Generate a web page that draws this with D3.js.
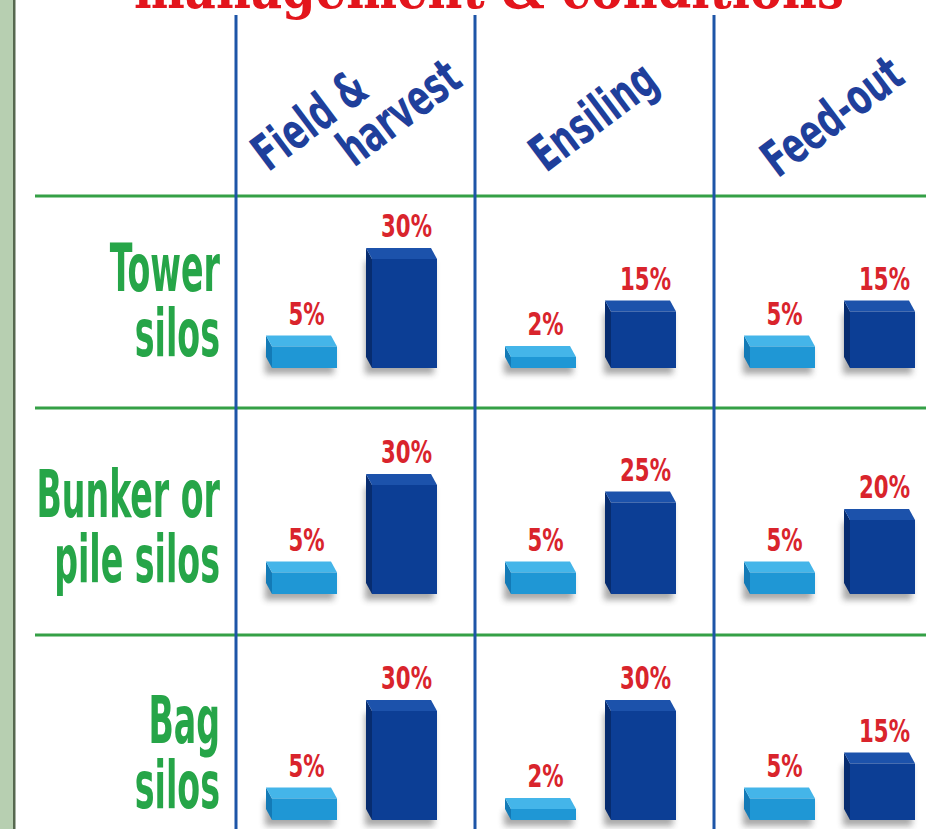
<!DOCTYPE html>
<html><head><meta charset="utf-8">
<script src="https://cdn.jsdelivr.net/npm/d3@7"></script>
<style>html,body{margin:0;padding:0;background:#fff;overflow:hidden}</style>
</head><body>
<svg id="chart" width="926" height="829"></svg>
<script>
// Silage dry-matter losses by storage type and stage
const stages = ["Field & harvest", "Ensiling", "Feed-out"];
const stageLines = [["Field &", "harvest"], ["Ensiling"], ["Feed-out"]];
const silos = ["Tower silos", "Bunker or pile silos", "Bag silos"];
const siloLines = [["Tower", "silos"], ["Bunker or", "pile silos"], ["Bag", "silos"]];
const series = ["Good", "Poor"];
// rows = silos, columns = stages
const goodLoss = [[5, 2, 5], [5, 5, 5], [5, 2, 5]];
const poorLoss = [[30, 15, 15], [30, 25, 20], [30, 30, 15]];
const titleText = "management & conditions";

const W = 926, H = 829;
const svg = d3.select("#chart");
const condensed = "'Liberation Sans Narrow', 'DejaVu Sans Condensed', 'Roboto', sans-serif";

const defs = svg.append("defs");
defs.append("filter").attr("id", "soft").attr("x", "-50%").attr("y", "-50%").attr("width", "200%").attr("height", "200%")
  .append("feGaussianBlur").attr("stdDeviation", 3);

// page background and left margin strip
svg.append("rect").attr("width", W).attr("height", H).attr("fill", "#ffffff");
svg.append("rect").attr("x", 0).attr("y", 0).attr("width", 13).attr("height", H).attr("fill", "#b7cfb1");
svg.append("rect").attr("x", 13).attr("y", 0).attr("width", 2.5).attr("height", H).attr("fill", "#56684f");

// scales
const x = d3.scaleBand().domain(stages).range([236, 236 + 3 * 239]);
const y = d3.scalePoint().domain(silos).range([368, 820]);
const xs = d3.scaleBand().domain(series).range([30, 201]).paddingInner(0.29);
const h = d3.scaleLinear().domain([0, 30]).range([4, 109]);
const depth = { dx: -6, dy: -11 };
const rowRuleY = [196, 408, 635];

const palette = {
  Good: { front: "#1f97d5", top: "#44b5e9", side: "#137ab6" },
  Poor: { front: "#0c3e95", top: "#1c52ab", side: "#072c6f" }
};

// cropped title line
svg.append("text")
  .attr("x", 134).attr("y", 8)
  .attr("textLength", 710).attr("lengthAdjust", "spacingAndGlyphs")
  .attr("font-family", "'DejaVu Serif', serif").attr("font-weight", "bold")
  .attr("font-size", 56).attr("fill", "#e3151c")
  .text(titleText);

// green row rules
svg.append("g").selectAll("line").data(rowRuleY).join("line")
  .attr("x1", 35).attr("x2", W).attr("y1", d => d).attr("y2", d => d)
  .attr("stroke", "#35a046").attr("stroke-width", 3);

// blue column rules
svg.append("g").selectAll("line").data(stages).join("line")
  .attr("x1", d => x(d)).attr("x2", d => x(d)).attr("y1", 15).attr("y2", H)
  .attr("stroke", "#1d55a7").attr("stroke-width", 3);

// column headers (rotated, condensed)
const hsx = 0.72;
const header = svg.append("g").selectAll("g").data(stages).join("g")
  .attr("transform", d => `translate(${x(d) + 118},116) rotate(-37) scale(${hsx},1)`);
header.each(function (d, i) {
  const lines = stageLines[i];
  const g = d3.select(this);
  lines.forEach((t, j) => {
    const k = j - (lines.length - 1) / 2;
    g.append("text")
      .attr("x", k * 76 / hsx).attr("y", k * 48).attr("dy", "0.35em")
      .attr("text-anchor", "middle")
      .attr("font-family", condensed).attr("font-weight", "bold")
      .attr("font-size", 50).attr("fill", "#1f3f9b")
      .text(t);
  });
});

// row labels
const rowLab = svg.append("g").selectAll("g").data(silos).join("g")
  .attr("transform", d => `translate(220,${y(d) - 12}) scale(0.56,1)`);
rowLab.each(function (d, i) {
  const lines = siloLines[i];
  const g = d3.select(this);
  lines.forEach((t, j) => {
    g.append("text")
      .attr("x", 0).attr("y", (j - (lines.length - 1)) * 65)
      .attr("text-anchor", "end")
      .attr("font-family", condensed).attr("font-weight", "bold")
      .attr("font-size", 66).attr("fill", "#26a548")
      .text(t);
  });
});

// bar cells
const cells = [];
silos.forEach((s, r) => stages.forEach((st, c) => {
  cells.push({ silo: s, stage: st, series: "Good", value: goodLoss[r][c] });
  cells.push({ silo: s, stage: st, series: "Poor", value: poorLoss[r][c] });
}));

const bars = svg.append("g").selectAll("g").data(cells).join("g")
  .attr("transform", d => `translate(${x(d.stage) + xs(d.series)},${y(d.silo)})`);

bars.each(function (d) {
  const g = d3.select(this);
  const bw = xs.bandwidth();
  const fx = 6, fw = bw - 6;
  const fh = h(d.value);
  const col = palette[d.series];
  // soft drop shadow
  g.append("rect").attr("x", fx - 7).attr("y", -fh + 2).attr("width", fw + 4).attr("height", fh + 4)
    .attr("fill", "#404040").attr("opacity", 0.45).attr("filter", "url(#soft)");
  // left side face
  g.append("path")
    .attr("d", `M${fx},${-fh} L${fx + depth.dx},${-fh + depth.dy} L${fx + depth.dx},${depth.dy} L${fx},0 Z`)
    .attr("fill", col.side);
  // top face
  g.append("path")
    .attr("d", `M${fx},${-fh} L${fx + fw},${-fh} L${fx + fw + depth.dx},${-fh + depth.dy} L${fx + depth.dx},${-fh + depth.dy} Z`)
    .attr("fill", col.top);
  // front face
  g.append("rect").attr("x", fx).attr("y", -fh).attr("width", fw).attr("height", fh).attr("fill", col.front);
  // value label
  g.append("text")
    .attr("transform", `translate(${fx + fw / 2 + 2},${-fh + depth.dy - 11}) scale(0.74,1)`)
    .attr("text-anchor", "middle")
    .attr("font-family", condensed).attr("font-weight", "bold")
    .attr("font-size", 32).attr("fill", "#d9242c")
    .text(d.value + "%");
});
</script>
</body></html>
